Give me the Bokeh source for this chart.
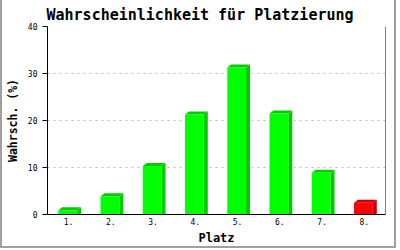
from bokeh.plotting import figure
from bokeh.models import FixedTicker, Range1d, Span
from bokeh.embed import file_html
from bokeh.resources import INLINE

# --- data ---
places = [1, 2, 3, 4, 5, 6, 7, 8]
place_labels = ["1.", "2.", "3.", "4.", "5.", "6.", "7.", "8."]
probabilities = [0.9, 3.9, 10.3, 21.3, 31.3, 21.5, 8.9, 2.5]
front_colors = ["#00ff00"] * 7 + ["#ff0000"]
shade_colors = ["#00cc00"] * 7 + ["#cc0000"]
y_ticks = [0, 10, 20, 30, 40]

FONT = "DejaVu Sans Mono"

p = figure(width=396, height=248, output_backend="svg", toolbar_location=None,
           x_range=Range1d(0.5, 8.5), y_range=Range1d(0, 40),
           min_border_left=41, min_border_right=13, min_border_top=26, min_border_bottom=34,
           background_fill_color="white", border_fill_color="white")
p.styles = {"border-left": "2px solid #a0a0a0", "border-right": "2px solid #a0a0a0",
            "border-bottom": "2px solid #a0a0a0"}
p.outline_line_color = None

# 3D bars
left_off, right_off = -0.245, 0.2
dx, dy = 0.094, 0.64
fl, fr, fb, ft = [], [], [], []
side_xs, side_ys, top_xs, top_ys = [], [], [], []
for c, v in zip(places, probabilities):
    l, r = c + left_off, c + right_off
    fl.append(l); fr.append(r); fb.append(0); ft.append(v)
    side_xs.append([r, r + dx, r + dx, r]); side_ys.append([0, 0, v + dy, v])
    top_xs.append([l, l + dx, r + dx, r]); top_ys.append([v, v + dy, v + dy, v])

p.patches(side_xs, side_ys, fill_color=shade_colors, line_color=None)
p.patches(top_xs, top_ys, fill_color=shade_colors, line_color=None)
p.quad(left=fl, right=fr, bottom=fb, top=ft, fill_color=front_colors, line_color=None)

# title
p.title.text = "Wahrscheinlichkeit für Platzierung"
p.title.text_font = FONT
p.title.text_font_style = "bold"
p.title.text_font_size = "15px"
p.title.text_color = "black"
p.title.align = "left"
p.title.offset = -1
p.title.standoff = 5

# axes
xa = p.xaxis[0]
xa.ticker = FixedTicker(ticks=places)
xa.major_label_overrides = {c: lab for c, lab in zip(places, place_labels)}
xa.major_tick_out = 0
xa.major_tick_in = 0
xa.minor_tick_line_color = None
xa.major_label_standoff = 3
xa.major_label_text_font = FONT
xa.major_label_text_font_size = "8px"
xa.major_label_text_color = "black"
xa.axis_label = "Platz"
xa.axis_label_text_font = FONT
xa.axis_label_text_font_style = "bold"
xa.axis_label_text_font_size = "12px"
xa.axis_label_text_color = "black"
xa.axis_label_standoff = 3
xa.axis_line_color = "black"

ya = p.yaxis[0]
ya.ticker = FixedTicker(ticks=y_ticks)
ya.major_tick_out = 5
ya.major_tick_in = 0
ya.minor_tick_line_color = None
ya.major_label_standoff = 5
ya.major_label_text_font = FONT
ya.major_label_text_font_size = "8px"
ya.major_label_text_color = "black"
ya.axis_label = "Wahrsch. (%)"
ya.axis_label_text_font = FONT
ya.axis_label_text_font_style = "bold"
ya.axis_label_text_font_size = "11.5px"
ya.axis_label_text_color = "black"
ya.axis_label_standoff = 5
ya.axis_line_color = "black"

p.add_layout(Span(location=8.5, dimension="height", line_color="black", line_width=1))

p.xgrid.grid_line_color = None
p.ygrid.grid_line_color = "#bbbbbb"
p.ygrid.grid_line_dash = "2 4"
p.ygrid.ticker = FixedTicker(ticks=y_ticks[1:])

open("out.html", "w").write(file_html(p, INLINE))
